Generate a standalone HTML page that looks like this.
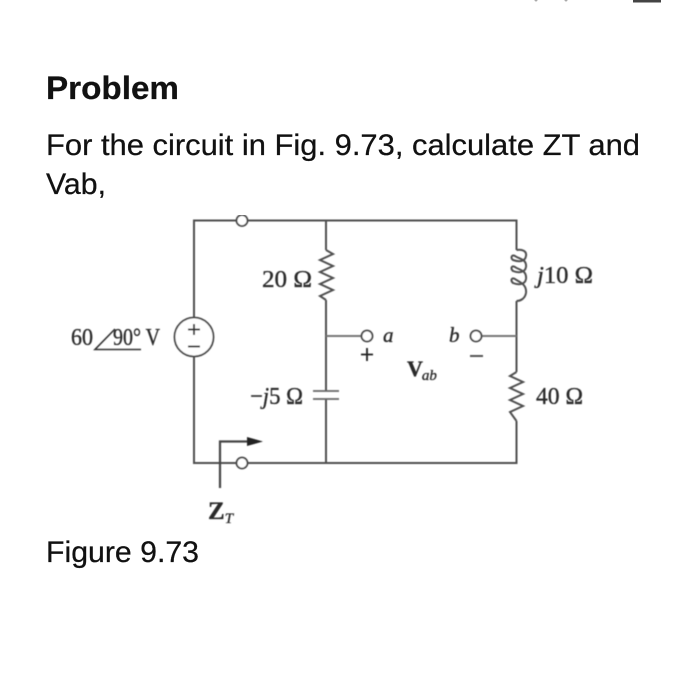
<!DOCTYPE html>
<html><head><meta charset="utf-8"><style>
html,body{margin:0;padding:0;background:#fff;width:700px;height:693px;overflow:hidden}
svg{display:block}
.s{font-family:"Liberation Sans",sans-serif;fill:#111;stroke:#111;stroke-width:.25}
.t{font-family:"Liberation Serif",serif;fill:#2a2a2a;stroke:#2a2a2a;stroke-width:.35}
.w{fill:none;stroke:#4f4f4f;stroke-width:2}
</style></head><body>
<svg width="700" height="693" viewBox="0 0 700 693" xmlns="http://www.w3.org/2000/svg">
<defs><filter id="b" x="0" y="0" width="100%" height="100%"><feGaussianBlur stdDeviation="0.45"/></filter></defs>
<rect x="633" y="0" width="28" height="2.5" fill="#444"/>
<circle cx="536" cy="0" r="1.5" fill="#aaa"/><circle cx="566" cy="0" r="1.5" fill="#aaa"/>
<text class="s" x="46" y="99" font-size="32.5" font-weight="bold" textLength="133" lengthAdjust="spacingAndGlyphs">Problem</text>
<text class="s" x="46" y="155" font-size="30" textLength="594" lengthAdjust="spacingAndGlyphs">For the circuit in Fig. 9.73, calculate ZT and</text>
<text class="s" x="46" y="194" font-size="30" textLength="60" lengthAdjust="spacingAndGlyphs">Vab,</text>
<text class="s" x="46" y="562" font-size="30" textLength="153" lengthAdjust="spacingAndGlyphs">Figure 9.73</text>

<g filter="url(#b)">
<!-- wires -->
<path class="w" d="M194 317V220.500H236M248 220.500H516.500V250M516.500 301V372M516.500 421V463H248M236 463H194V357"/>
<path class="w" d="M326 220.500V250M326 300V391M326 399V463"/>
<path class="w" d="M326 336H361M482 336H516.500" style="stroke:#777"/>
<!-- terminals -->
<g fill="#fff" stroke="#444" stroke-width="1.800">
<circle cx="242" cy="220.500" r="5.500"/>
<circle cx="242" cy="463" r="5.500"/>
<circle cx="367" cy="336" r="5.500"/>
<circle cx="476" cy="336" r="5.500"/>
<circle cx="194" cy="337" r="19.500"/>
</g>
<!-- source signs -->
<path d="M194 324V335M188 329.500H200M188 346.500H200" stroke="#333" stroke-width="2" fill="none"/>
<!-- resistors -->
<path class="w" d="M326 250L333 254L320 260L333 266L320 272L333 278L320 284L333 290L320 296L326 300"/>
<path class="w" d="M516.500 372L510 376L523 382L510 388L523 394L510 400L523 406L510 412L516.500 421"/>
<!-- capacitor -->
<path d="M313 391H339M313 399H339" stroke="#666" stroke-width="1.800" fill="none"/>
<!-- inductor -->
<path class="w" d="M516.500 250C522 249 527 251 526 256C525 262 519 262 513 260C510 258 512 254 515 256C519 259 527 259 526 267C525 273 518 273 513 271C510 268 512 265 515 267C519 270 527 270 526 279C525 285 518 285 513 283C510 280 512 277 515 279C519 282 527 284 526 293C525 299 520 301 516.500 301"/>
<!-- arrow -->
<path d="M220 488V441.500H250" fill="none" stroke="#444" stroke-width="2.200"/>
<path d="M247 437L263 441.500L247 446Z" fill="#222"/>
<!-- labels -->
<text class="t" x="262" y="287" font-size="24" textLength="50" lengthAdjust="spacingAndGlyphs">20 Ω</text>
<text class="t" x="71" y="345" font-size="24" textLength="22" lengthAdjust="spacingAndGlyphs">60</text>
<text class="t" x="113" y="345" font-size="24" textLength="47" lengthAdjust="spacingAndGlyphs">90° V</text>
<path d="M115 329L95 349.500H141" fill="none" stroke="#333" stroke-width="1.600"/>
<text class="t" x="250" y="404" font-size="24" textLength="53" lengthAdjust="spacingAndGlyphs">−<tspan font-style="italic">j</tspan>5 Ω</text>
<text class="t" x="537" y="283" font-size="24" textLength="56" lengthAdjust="spacingAndGlyphs"><tspan font-style="italic">j</tspan>10 Ω</text>
<text class="t" x="536" y="404" font-size="24" textLength="47" lengthAdjust="spacingAndGlyphs">40 Ω</text>
<text class="t" x="383" y="342" font-size="21" font-style="italic">a</text>
<text class="t" x="449" y="342" font-size="21" font-style="italic">b</text>
<path d="M367 348V361M361 354.500H373" stroke="#222" stroke-width="1.800" fill="none"/>
<path d="M470 356H483" stroke="#555" stroke-width="2"/>
<text class="t" x="407" y="376" font-size="22" font-weight="bold">V<tspan font-size="15" font-style="italic" font-weight="normal" dy="4" dx="-1">ab</tspan></text>
<text class="t" x="208" y="519" font-size="25" font-weight="bold">Z<tspan font-size="15" font-style="italic" font-weight="normal" dy="4">T</tspan></text>
</g>
</svg>
</body></html>
